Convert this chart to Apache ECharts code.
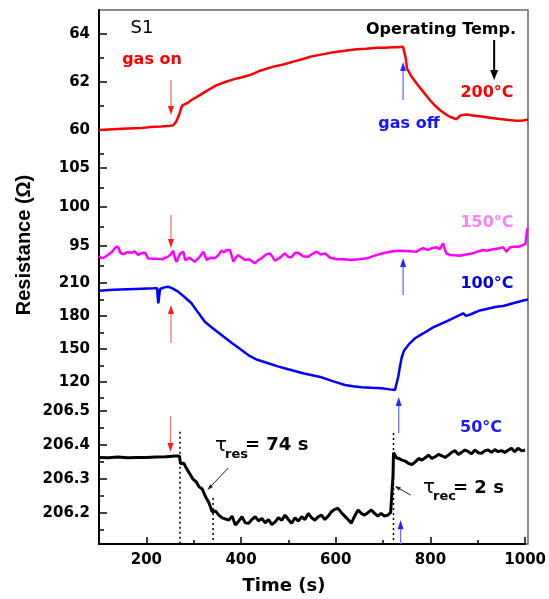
<!DOCTYPE html>
<html><head><meta charset="utf-8">
<script src="https://cdn.jsdelivr.net/npm/echarts@6/dist/echarts.min.js"></script>
<style>html,body{margin:0;padding:0;background:#fff}#c{width:549px;height:599px}</style>
</head><body><div id="c"></div>
<script>
// ---------- data ----------
const t200 = [100,130,160,190,207,230,250,256,262,268,273,276,287,294,304,325,347,365,382,400,417,438,466,487,508,530,543,560,592,620,641,660,683,700,715,725,738,742,744,746,755,766,780,794,805,815,826,836,850,855,860,871,885,906,925,941,960,976,990,1000];
const r200 = [60.00,60.03,60.06,60.08,60.12,60.15,60.18,60.20,60.35,60.62,60.95,61.04,61.14,61.25,61.36,61.62,61.87,62.00,62.11,62.20,62.29,62.47,62.64,62.73,62.85,62.97,63.05,63.12,63.24,63.31,63.36,63.39,63.43,63.43,63.45,63.45,63.47,63.47,62.95,62.57,62.25,61.95,61.60,61.25,61.02,60.83,60.68,60.55,60.45,60.55,60.62,60.65,60.60,60.55,60.50,60.46,60.42,60.39,60.40,60.44];

const t150 = [100,105,110,119,128,135,140,145,151,160,169,175,182,190,197,203,207,220,232,240,245,250,256,260,263,270,277,281,284,290,294,301,310,319,326,335,343,350,357,362,368,375,382,387,392,400,406,415,427,434,441,450,459,464,469,480,490,497,504,511,518,528,539,548,557,565,574,585,600,615,627,645,662,680,696,713,731,748,766,772,780,790,800,808,815,822,826,829,836,846,857,870,885,895,906,915,927,940,948,955,962,969,980,990,995,998,1000];
const r150 = [93.72,93.45,93.50,93.85,94.30,94.85,94.91,94.10,93.97,94.20,94.14,94.30,93.85,94.10,94.14,93.40,93.29,93.35,93.29,93.50,93.63,93.90,94.40,93.30,92.99,94.00,94.27,93.20,92.99,93.50,93.42,92.99,93.50,94.27,93.21,93.50,93.42,93.80,94.40,94.20,94.49,94.49,92.99,93.50,93.85,93.50,93.21,93.30,92.78,93.20,93.42,93.90,94.06,93.60,93.12,93.50,94.06,93.60,93.55,94.10,94.14,93.70,93.63,94.00,94.27,93.90,94.06,93.50,93.30,93.30,93.21,93.30,93.42,93.80,94.06,94.30,94.40,94.35,94.27,94.50,94.71,94.50,94.75,94.83,94.60,95.35,94.50,94.06,93.85,93.80,93.76,93.90,94.06,94.30,94.49,94.40,94.58,94.70,94.83,94.27,94.80,94.91,94.90,95.13,95.30,97.05,97.30];

const t100 = [100,130,160,190,215,222,223,224.5,226,228,237,245,252,266,280,294,308,322,340,357,378,399,413,432,455,475,497,530,567,590,616,633,651,672,693,710,721,724,728,731,735,740,752,763,780,801,829,864,870,874,880,899,934,948,950,952,969,990,1000];
const r100 = [203.0,203.8,204.3,204.8,205.1,205.2,198,191.5,197,204.5,206.0,206.6,205.5,202.1,197,191.5,183,174.7,168.3,162.6,155.5,148.9,144.3,140,136.8,134,131.3,127.5,124,120.5,117,115.8,114.9,114.4,114,113,112.4,114,125,133,142,148.5,155,159.6,164,169.5,175,182.4,180,179.3,181.5,185,188.4,189,187.5,189.5,191.5,194,195];

const t50 = [100,120,140,160,180,200,220,240,250,260,270,272,275,279,285,293,298,306,311,318,325,332,339,346,353,360,374,381,388,395,402,409,416,423,430,437,444,451,458,465,472,479,486,493,500,507,514,521,528,535,542,549,556,563,570,577,584,591,598,605,612,619,626,633,640,647,654,661,668,675,682,689,696,703,710,716,720,721,722,725,728,733,740,747,754,761,768,775,782,789,796,803,810,817,824,831,838,845,852,859,866,873,880,887,894,901,908,915,922,929,936,943,950,957,964,971,978,985,992,1000];
const r50 = [206.363,206.362,206.364,206.362,206.363,206.363,206.364,206.365,206.366,206.367,206.367,206.345,206.340,206.346,206.330,206.312,206.300,206.290,206.277,206.270,206.247,206.230,206.203,206.205,206.193,206.185,206.178,206.190,206.164,206.175,206.188,206.170,206.169,206.180,206.188,206.176,206.183,206.170,206.180,206.165,206.173,206.185,206.178,206.193,206.180,206.169,206.185,206.175,206.188,206.180,206.198,206.185,206.178,206.188,206.193,206.180,206.190,206.203,206.210,206.213,206.200,206.190,206.180,206.169,206.190,206.208,206.198,206.193,206.200,206.208,206.198,206.190,206.198,206.190,206.193,206.200,206.203,206.310,206.377,206.370,206.362,206.360,206.355,206.352,206.345,206.342,206.350,206.360,206.355,206.362,206.370,206.360,206.365,206.372,206.368,206.363,206.370,206.378,206.383,206.372,206.378,206.385,206.380,206.374,206.385,206.377,206.375,206.383,206.385,206.378,206.386,206.380,206.383,206.378,206.384,206.390,206.380,206.390,206.383,206.384];

// tick values
const xLabels = [200,400,600,800,1000];
const xMinor = [300,500,700,900];
const yMajor = [[60,62,64],[95,100,105],[120,150,180,210],[206.2,206.3,206.4,206.5]];
const yMinor = [[59,61,63],[92.5,97.5,102.5],[105,135,165,195],[206.15,206.25,206.35,206.45]];
const yDecimals = [0,0,0,1];
const tempLabels = ['200°C','150°C','100°C','50°C'];

// ---------- layout ----------
const L = 99, R = 21;
const panels = [
  {top:10, bottom:157, min:58.875, max:65},
  {top:157, bottom:266, min:92.436, max:106.41},
  {top:266, bottom:404, min:99.67, max:225.5},
  {top:404, bottom:544, min:206.1077, max:206.5206}
];
const colors = ['#ff0000','#ff00ff','#0000ff','#000000'];
const widths = [2.5,2.5,2.5,3];
const seriesT = [t200,t150,t100,t50], seriesR = [r200,r150,r100,r50];

const FONT = '"DejaVu Sans", sans-serif';
const chart = echarts.init(document.getElementById('c'), null, {renderer:'canvas'});

const grid = [], xAxis = [], yAxis = [], series = [];
panels.forEach((p,i)=>{
  grid.push({left:L, right:R, top:p.top, height:p.bottom-p.top, containLabel:false});
  const isBottom = i === 3;
  xAxis.push({
    gridIndex:i, type:'value', min:100, max:1000, position:'bottom',
    show:isBottom,
    axisLine:{show:isBottom, onZero:false, lineStyle:{color:'#000', width:2}},
    axisTick:{show:isBottom, inside:true, length:7, customValues:xLabels, lineStyle:{color:'#000', width:1.5}},
    axisLabel:{show:isBottom, customValues:xLabels, margin:9, color:'#000', fontFamily:FONT, fontWeight:'bold', fontSize:15,
      formatter:(v)=>String(Math.round(v))},
    splitLine:{show:false}
  });
  const ymaj = yAxis.length;
  yAxis.push({
    gridIndex:i, type:'value', min:p.min, max:p.max, position:'left',
    axisLine:{show:true, onZero:false, lineStyle:{color:'#000', width:2}},
    axisTick:{show:true, inside:true, length:8, customValues:yMajor[i], lineStyle:{color:'#000', width:1.5}},
    axisLabel:{show:true, customValues:yMajor[i], margin:9, color:'#000', fontFamily:FONT, fontWeight:'bold', fontSize:15,
      formatter:(v)=>Number(v).toFixed(yDecimals[i])},
    splitLine:{show:false}
  });
  yAxis.push({
    gridIndex:i, type:'value', min:p.min, max:p.max, position:'left', offset:0,
    axisLine:{show:false, onZero:false},
    axisTick:{show:true, inside:true, length:5, customValues:yMinor[i], lineStyle:{color:'#000', width:1.5}},
    axisLabel:{show:false},
    splitLine:{show:false}
  });
  series.push({
    type:'line', xAxisIndex:i, yAxisIndex:ymaj, showSymbol:false, symbol:'none',
    data: seriesT[i].map((t,k)=>[t, seriesR[i][k]]),
    lineStyle:{color:colors[i], width:widths[i]}, itemStyle:{color:colors[i]},
    clip:false, z:3, animation:false
  });
});
// minor x ticks on bottom grid
xAxis.push({
  gridIndex:3, type:'value', min:100, max:1000, position:'bottom', offset:0,
  axisLine:{show:false, onZero:false},
  axisTick:{show:true, inside:true, length:4, customValues:xMinor, lineStyle:{color:'#000', width:1.5}},
  axisLabel:{show:false}, splitLine:{show:false}
});
// frame grid
grid.push({left:L, right:R, top:10, height:534, show:true, borderColor:'#666', borderWidth:1.5, backgroundColor:'transparent', z:-1});
xAxis.push({gridIndex:4, type:'value', min:0, max:1, show:false});
yAxis.push({gridIndex:4, type:'value', min:0, max:1, show:false});

chart.setOption({animation:false, backgroundColor:'#fff', grid, xAxis, yAxis, series});

// ---------- annotations (positioned through data coordinates) ----------
const RED_L = '#ff6f6f', RED_H = '#ff1a1a', BLUE_L = '#6f6fff', BLUE_H = '#2424ff';
const arrows = [
  {s:0, from:[251,62.08], to:[251,60.62], lc:RED_L, hc:RED_H, w:1.3, hl:9, hw:6},
  {s:0, from:[738,61.25], to:[738,62.83], lc:BLUE_L, hc:BLUE_H, w:1.3, hl:9, hw:6},
  {s:0, from:[929,63.75], to:[929,62.08], lc:'#000', hc:'#000', w:2, hl:10, hw:8},
  {s:1, from:[251,98.97], to:[251,94.74], lc:RED_L, hc:RED_H, w:1.3, hl:9, hw:6},
  {s:1, from:[738,88.72], to:[738,93.46], lc:BLUE_L, hc:BLUE_H, w:1.3, hl:9, hw:6},
  {s:2, from:[251,155.3], to:[251,190.0], lc:RED_L, hc:RED_H, w:1.3, hl:9, hw:6},
  {s:3, from:[733,206.435], to:[733,206.541], lc:BLUE_L, hc:BLUE_H, w:1.3, hl:9, hw:6},
  {s:3, from:[251,206.485], to:[251,206.379], lc:RED_L, hc:RED_H, w:1.3, hl:9, hw:6},
  {s:3, from:[737,206.1077], to:[737,206.178], lc:BLUE_L, hc:BLUE_H, w:1.3, hl:9, hw:6},
  {s:3, from:[373,206.332], to:[329,206.267], lc:'#222', hc:'#222', w:1, hl:6, hw:4},
  {s:3, from:[758,206.252], to:[724.5,206.279], lc:'#222', hc:'#222', w:1, hl:6, hw:4}
];
const dotted = [
  {s:3, from:[271,206.439], to:[271,206.1077]},
  {s:3, from:[341,206.243], to:[341,206.1077]},
  {s:3, from:[722,206.435], to:[722,206.1077]}
];
const gfx = [];
const px = (s,pt)=>chart.convertToPixel({seriesIndex:s}, pt);
arrows.forEach(a=>{
  const p1 = px(a.s,a.from), p2 = px(a.s,a.to);
  const dx = p2[0]-p1[0], dy = p2[1]-p1[1], len = Math.hypot(dx,dy);
  const ux = dx/len, uy = dy/len;
  const bx = p2[0]-ux*a.hl, by = p2[1]-uy*a.hl;
  gfx.push({type:'line', z:50, silent:true, shape:{x1:p1[0],y1:p1[1],x2:bx,y2:by}, style:{stroke:a.lc, lineWidth:a.w}});
  gfx.push({type:'polygon', z:50, silent:true, shape:{points:[[p2[0],p2[1]],[bx-uy*a.hw/2, by+ux*a.hw/2],[bx+uy*a.hw/2, by-ux*a.hw/2]]}, style:{fill:a.hc}});
});
dotted.forEach(d=>{
  const p1 = px(d.s,d.from), p2 = px(d.s,d.to);
  gfx.push({type:'line', z:40, silent:true, shape:{x1:p1[0],y1:p1[1],x2:p2[0],y2:p2[1]}, style:{stroke:'#000', lineWidth:1.5, lineDash:[2,3]}});
});
function txt(text, x, y, fill, font, align){
  gfx.push({type:'text', z:60, silent:true, x:x, y:y,
    style:{text:text, fill:fill, font:font, align:align||'center', verticalAlign:'middle', textAlign:align||'center', textVerticalAlign:'middle'}});
}
const B16 = 'bold 16px ' + FONT;
txt('S1', 142, 28, '#000', 'normal 18px ' + FONT);
txt('gas on', 152, 60, '#ff0000', B16);
txt('Operating Temp.', 441, 30, '#000', B16);
txt(tempLabels[0], 487, 93, '#ff0000', B16);
txt('gas off', 409, 124, '#1414ff', B16);
txt(tempLabels[1], 487, 223, '#ff80ff', B16);
txt(tempLabels[2], 487, 284, '#0000dd', B16);
txt(tempLabels[3], 481, 428, '#1a1aff', B16);
txt('τ', 215, 446, '#000', 'normal 20px ' + FONT, 'left');
txt('res', 225, 455, '#000', 'bold 13px ' + FONT, 'left');
txt('= 74 s', 245, 445, '#000', 'bold 18px ' + FONT, 'left');
txt('τ', 423, 488, '#000', 'normal 20px ' + FONT, 'left');
txt('rec', 433, 497, '#000', 'bold 13px ' + FONT, 'left');
txt('= 2 s', 453, 488, '#000', 'bold 18px ' + FONT, 'left');
txt('Time (s)', 284, 586, '#000', 'bold 18px ' + FONT);
gfx.push({type:'text', z:60, silent:true, x:24, y:245, rotation:Math.PI/2,
  style:{text:'Resistance (Ω)', fill:'#000', font:'bold 20px "Liberation Sans", Arial, sans-serif', align:'center', verticalAlign:'middle', textAlign:'center', textVerticalAlign:'middle'}});
chart.setOption({graphic:{elements:gfx}});
</script>
</body></html>
